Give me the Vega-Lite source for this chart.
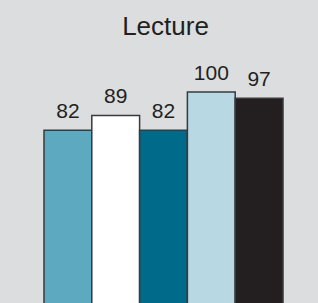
{
  "$schema": "https://vega.github.io/schema/vega-lite/v6.json",
  "autosize": {"type": "none"},
  "width": 309,
  "height": 255,
  "padding": {"left": 9, "top": 50, "right": 0, "bottom": 0},
  "background": "#dcdddf",
  "config": {"view": {"stroke": null}, "font": "Liberation Sans"},
  "title": {
    "text": "Lecture",
    "fontSize": 26,
    "fontWeight": "normal",
    "color": "#231f20",
    "font": "Liberation Sans",
    "anchor": "middle",
    "baseline": "alphabetic",
    "offset": 17,
    "dx": 2,
    "dy": 28
  },
  "data": {
    "values": [
      {"group": "A", "value": 82},
      {"group": "B", "value": 89},
      {"group": "C", "value": 82},
      {"group": "D", "value": 100},
      {"group": "E", "value": 97}
    ]
  },
  "encoding": {
    "x": {
      "field": "group",
      "type": "nominal",
      "axis": null,
      "scale": {"paddingInner": 0, "paddingOuter": 0.732}
    },
    "y": {
      "field": "value",
      "type": "quantitative",
      "axis": null,
      "scale": {"domain": [0, 119.7], "nice": false, "zero": true}
    }
  },
  "layer": [
    {
      "mark": {"type": "bar", "stroke": "#3a3a3a", "strokeWidth": 1.5},
      "encoding": {
        "color": {
          "field": "group",
          "type": "nominal",
          "legend": null,
          "scale": {
            "domain": ["A", "B", "C", "D", "E"],
            "range": ["#5da9c0", "#ffffff", "#006a8b", "#b8d8e3", "#231f20"]
          }
        }
      }
    },
    {
      "mark": {"type": "text", "baseline": "alphabetic", "dy": -12, "fontSize": 21, "color": "#231f20", "font": "Liberation Sans"},
      "encoding": {"text": {"field": "value", "type": "quantitative"}}
    }
  ]
}
